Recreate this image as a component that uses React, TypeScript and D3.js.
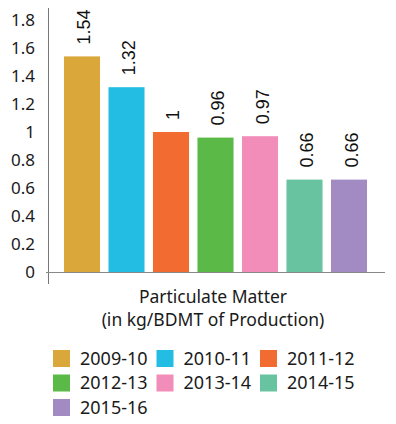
import { useRef, useEffect } from 'react';
import * as d3 from 'd3';

const years = ['2009-10', '2010-11', '2011-12', '2012-13', '2013-14', '2014-15', '2015-16'];
const values = [1.54, 1.32, 1, 0.96, 0.97, 0.66, 0.66];
const colors = ['#daa73a', '#23bde3', '#f26b31', '#5bb947', '#f28cb8', '#67c3a0', '#a28bc3'];
const yTicks = [0, 0.2, 0.4, 0.6, 0.8, 1, 1.2, 1.4, 1.6, 1.8];
const titleLines = ['Particulate Matter', '(in kg/BDMT of Production)'];

const W = 396;
const H = 424;

export default function App() {
    const svgRef = useRef<SVGSVGElement>(null);

    useEffect(() => {
        if (!svgRef.current) return;
        const svg = d3.select(svgRef.current);
        svg.selectAll('*').remove();

        const font = '"Noto Sans", sans-serif';

        const x = d3.scaleBand<string>()
            .domain(years)
            .range([57.3, 373.7])
            .paddingInner(0.19)
            .paddingOuter(0.15);
        const y = d3.scaleLinear().domain([0, 1.8]).range([272, 20]);

        // axes lines
        svg.append('line')
            .attr('x1', 48.5).attr('x2', 48.5)
            .attr('y1', 8).attr('y2', 284)
            .attr('stroke', '#777').attr('stroke-width', 1);
        svg.append('line')
            .attr('x1', 46).attr('x2', 385)
            .attr('y1', y(0) + 0.5).attr('y2', y(0) + 0.5)
            .attr('stroke', '#888').attr('stroke-width', 1);

        // y tick labels
        svg.append('g').selectAll('text')
            .data(yTicks)
            .enter().append('text')
            .attr('x', 35)
            .attr('y', d => y(d))
            .attr('dy', '0.35em')
            .attr('text-anchor', 'end')
            .attr('font-size', 17)
            .attr('font-family', font)
            .attr('fill', '#1a1a1a')
            .text(d => String(d));

        // bars
        svg.append('g').selectAll('rect')
            .data(values)
            .enter().append('rect')
            .attr('x', (_, i) => x(years[i])!)
            .attr('y', d => y(d))
            .attr('width', x.bandwidth())
            .attr('height', d => y(0) - y(d))
            .attr('fill', (_, i) => colors[i]);

        // value labels (rotated)
        svg.append('g').selectAll('text')
            .data(values)
            .enter().append('text')
            .attr('transform', (d, i) => {
                const cx = x(years[i])! + x.bandwidth() / 2 + 8.5;
                const cy = y(d) - 12;
                return `translate(${cx},${cy}) rotate(-90)`;
            })
            .attr('text-anchor', 'start')
            .attr('font-size', 18)
            .attr('font-family', '"Liberation Sans", Arial, sans-serif')
            .attr('fill', '#111')
            .text(d => String(d));

        // title
        svg.append('g').selectAll('text')
            .data(titleLines)
            .enter().append('text')
            .attr('x', 213)
            .attr('y', (_, i) => 303 + i * 23)
            .attr('text-anchor', 'middle')
            .attr('font-size', 17.5)
            .attr('font-family', font)
            .attr('fill', '#1a1a1a')
            .text(d => d);

        // legend
        const lg = svg.append('g').selectAll('g')
            .data(years)
            .enter().append('g')
            .attr('transform', (_, i) => `translate(${53 + (i % 3) * 103.5},${350 + Math.floor(i / 3) * 24.5})`);
        lg.append('rect')
            .attr('width', 17).attr('height', 17)
            .attr('fill', (_, i) => colors[i]);
        lg.append('text')
            .attr('x', 27)
            .attr('y', 8.5)
            .attr('dy', '0.35em')
            .attr('font-size', 18)
            .attr('font-family', font)
            .attr('fill', '#1a1a1a')
            .text(d => d);
    }, []);

    return (
        <svg ref={svgRef} width={W} height={H}
            style={{ position: 'absolute', left: 0, top: 0, background: '#fff' }} />
    );
}
